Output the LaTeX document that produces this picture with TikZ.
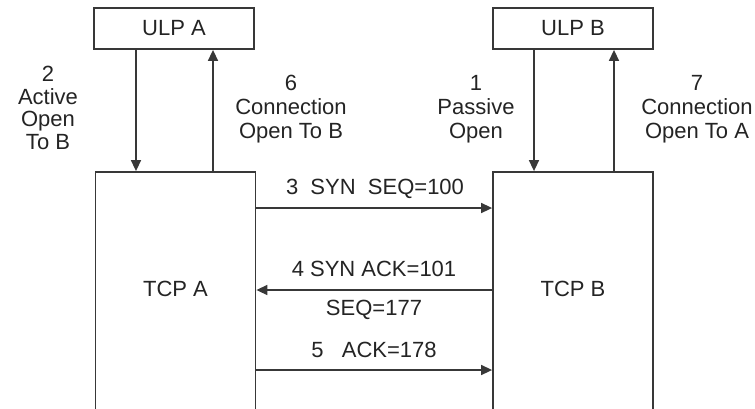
\documentclass[tikz,border=0pt]{standalone}
\usepackage{fontspec}
\setmainfont{Liberation Sans}
\usetikzlibrary{arrows.meta}
\definecolor{ink}{gray}{0.14}
\definecolor{rule}{gray}{0.22}
\begin{document}
\begin{tikzpicture}[x=1pt,y=-1pt,
  every node/.style={font=\fontsize{22}{24}\selectfont, text=ink, inner sep=0pt},
  ulpbox/.style={draw=rule, line width=1.8pt, minimum width=160pt, minimum height=41pt},
  tcpbox/.style={draw=rule, line width=1.8pt, minimum width=160pt, minimum height=248pt},
  msg/.style={draw=rule, line width=1.5pt, -{Triangle[length=11pt,width=10pt]}},
  lbl/.style={align=center, anchor=north}]
\useasboundingbox (0,0) rectangle (755,408);
\clip (0,0) rectangle (755,408);
\fill[white] (0,0) rectangle (755,408);

% upper layer processes
\node[ulpbox] (ulpA) at (174,28.5) {ULP A};
\node[ulpbox] (ulpB) at (573,28.5) {ULP B};

% TCP endpoints (open at the bottom edge)
\node[tcpbox] (tcpA) at (175.5,296) {};
\node[tcpbox] (tcpB) at (573,296) {};
\node (tcpAtxt) at (175.5,289) {TCP A};
\node (tcpBtxt) at (573,289) {TCP B};

% columns of the vertical calls and rows of the segments
\coordinate (xA1) at (136,0);
\coordinate (xA2) at (213,0);
\coordinate (xB1) at (534,0);
\coordinate (xB2) at (614,0);
\coordinate (r3) at (0,208);
\coordinate (r4) at (0,290);
\coordinate (r5) at (0,370);

% calls between ULPs and TCPs
\draw[msg] (ulpA.south -| xA1) -- (tcpA.north -| xA1);
\draw[msg] (tcpA.north -| xA2) -- (ulpA.south -| xA2);
\draw[msg] (ulpB.south -| xB1) -- (tcpB.north -| xB1);
\draw[msg] (tcpB.north -| xB2) -- (ulpB.south -| xB2);

% three-way handshake segments
\draw[msg] (tcpA.east |- r3) -- (tcpB.west |- r3);
\draw[msg] (tcpB.west |- r4) -- (tcpA.east |- r4);
\draw[msg] (tcpA.east |- r5) -- (tcpB.west |- r5);

% labels
\node[lbl, font=\fontsize{22}{22.5}\selectfont] (l2) at (48,66) {2\\Active\\Open\\To B};
\node[lbl] (l6) at (291,75) {6\\Connection\\Open To B};
\node[lbl] (l1) at (476,75) {1\\Passive\\Open};
\node[lbl] (l7) at (697,75) {7\\Connection\\Open To A};

\node (m3) at (375,189) {3\ \ SYN\ \ SEQ=100};
\node (m4) at (374,269) {4 SYN ACK=101};
\node (m4b) at (374,310) {SEQ=177};
\node (m5) at (374,350) {5\ \ \ ACK=178};
\end{tikzpicture}
\end{document}
